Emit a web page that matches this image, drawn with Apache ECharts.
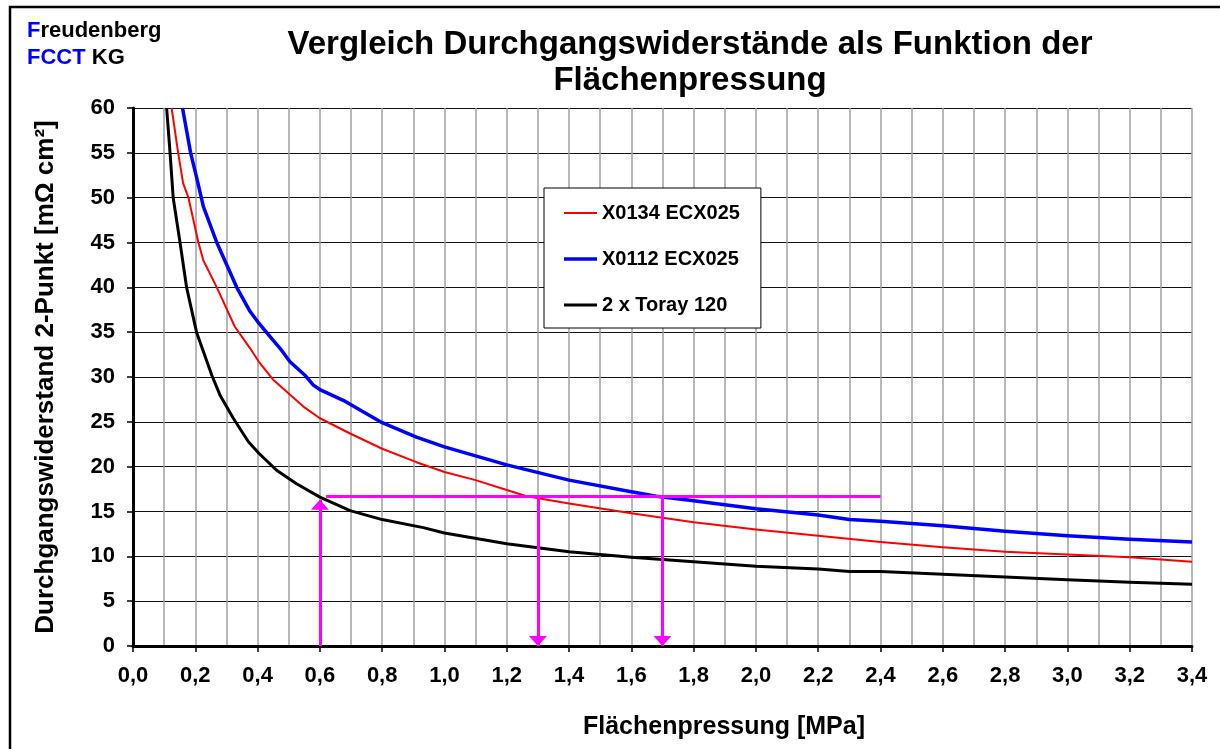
<!DOCTYPE html>
<html><head><meta charset="utf-8">
<script src="https://cdn.jsdelivr.net/npm/echarts@6/dist/echarts.min.js"></script>
<style>html,body{margin:0;padding:0;background:#fff}#c{width:1220px;height:749px}</style>
</head><body><div id="c"></div>
<script>
// ---- data ----
const seriesNames = ['X0134 ECX025', 'X0112 ECX025', '2 x Toray 120'];
const seriesColors = ['#FF0000', '#0000FF', '#000000'];

const redP = [0.124,0.145,0.161,0.178,0.21,0.226,0.269,0.327,0.376,0.404,0.45,0.547,0.6,0.697,0.8,0.91,1.0,1.1,1.2,1.264,1.4,1.6,1.8,2.0,2.2,2.4,2.6,2.8,3.0,3.2,3.4];
const redR = [60,55,51.6,50,45,43.0,40,35.6,33.2,31.7,29.7,26.7,25.4,23.7,22.0,20.5,19.4,18.5,17.4,16.7,15.9,14.8,13.8,13.0,12.3,11.6,11.0,10.5,10.2,9.9,9.4];

const blueP = [0.159,0.185,0.204,0.226,0.269,0.333,0.376,0.404,0.44,0.472,0.504,0.552,0.579,0.6,0.675,0.8,0.91,1.0,1.2,1.4,1.6,1.68,1.8,2.0,2.2,2.3,2.4,2.6,2.8,3.0,3.2,3.4];
const blueR = [60,55,52.3,49.0,45,40,37.3,36.0,34.5,33.2,31.7,30.2,29.1,28.6,27.4,24.9,23.3,22.2,20.2,18.5,17.2,16.7,16.2,15.3,14.6,14.1,13.9,13.4,12.8,12.3,11.9,11.6];

const blackP = [0.108,0.119,0.129,0.151,0.172,0.204,0.253,0.279,0.322,0.37,0.404,0.461,0.525,0.6,0.697,0.8,0.932,1.0,1.2,1.4,1.6,1.8,2.0,2.2,2.3,2.4,2.6,2.8,3.0,3.2,3.4];
const blackR = [60,55,50,45,40,35,30.2,28.0,25.4,22.8,21.5,19.6,18.1,16.6,15.1,14.1,13.2,12.6,11.4,10.5,9.9,9.4,8.9,8.6,8.3,8.3,8.0,7.7,7.4,7.1,6.9];

// reference construction (magenta)
const refLevel = 16.7;
const refLineFrom = 0.62, refLineTo = 2.4;
const arrowUpP = [0.6];
const arrowDownP = [1.3, 1.7];

// axes
const xMin = 0, xMax = 3.4, xStep = 0.2;
const yMin = 0, yMax = 60, yStep = 5;

const titleText = 'Vergleich Durchgangswiderstände als Funktion der\nFlächenpressung';
const xName = 'Flächenpressung [MPa]';
const yName = 'Durchgangswiderstand 2-Punkt [mΩ cm²]';

// ---- chart ----
const FONT = '"Liberation Sans", Arial, Helvetica, sans-serif';
const zip = (a, b) => a.map((v, i) => [v, b[i]]);
const curves = [zip(redP, redR), zip(blueP, blueR), zip(blackP, blackR)];
const widths = [2, 3.5, 3];
const legendIcons = widths.map(w => 'path://M0,0 L33,0 L33,' + w + ' L0,' + w + ' Z');

const magenta = '#FF00FF';
const arrowHead = { symbol: 'triangle', symbolSize: [18, 10], symbolOffset: [0, 5] };
const markData = [
  [{ coord: [refLineFrom, refLevel], symbol: 'none' }, { coord: [refLineTo, refLevel], symbol: 'none' }]
];
arrowUpP.forEach(p => markData.push([{ coord: [p, yMin], symbol: 'none' }, Object.assign({ coord: [p, refLevel - 0.4] }, arrowHead)]));
arrowDownP.forEach(p => markData.push([{ coord: [p, refLevel], symbol: 'none' }, Object.assign({ coord: [p, yMin] }, arrowHead)]));

const series = seriesNames.map((n, i) => ({
  name: n, type: 'line', data: curves[i], symbol: 'none', showSymbol: false,
  smooth: false,
  lineStyle: { color: seriesColors[i], width: widths[i], join: 'round' }, itemStyle: { color: seriesColors[i] },
  emphasis: { disabled: true }, z: 3
}));
series.push({
  name: 'annot', type: 'line', data: [], z: 5,
  markLine: {
    silent: true, animation: false, label: { show: false },
    lineStyle: { color: magenta, width: 3, type: 'solid' },
    emphasis: { disabled: true },
    data: markData
  }
});

const chart = echarts.init(document.getElementById('c'), null, { renderer: 'canvas' });
chart.setOption({
  animation: false,
  backgroundColor: '#fff',
  grid: { left: 133, right: 28, top: 108, bottom: 103, containLabel: false },
  legend: {
    data: seriesNames.map((n, i) => ({ name: n, icon: legendIcons[i] })),
    orient: 'vertical', left: 544, top: 188,
    itemWidth: 33, itemHeight: 14, itemGap: 26, padding: [15, 21, 13, 20],
    backgroundColor: '#fff', borderColor: '#000', borderWidth: 1, borderRadius: 0,
    selectedMode: false,
    textStyle: { fontFamily: FONT, fontWeight: 'bold', fontSize: 20, color: '#000' }
  },
  xAxis: {
    type: 'value', min: xMin, max: xMax, interval: xStep,
    axisLine: { show: true, onZero: false, lineStyle: { color: '#000', width: 3 } },
    axisTick: { show: true, length: 6, lineStyle: { color: '#000', width: 1.5 } },
    axisLabel: { margin: 19, fontFamily: FONT, fontWeight: 'bold', fontSize: 22, color: '#000',
      formatter: v => v.toFixed(1).replace('.', ',') },
    splitLine: { show: true, lineStyle: { color: '#a0a0a0', width: 1.5 } },
    minorTick: { show: false, splitNumber: 2 },
    minorSplitLine: { show: true, lineStyle: { color: '#a0a0a0', width: 1.5 } }
  },
  yAxis: {
    type: 'value', min: yMin, max: yMax, interval: yStep,
    name: yName, nameLocation: 'middle', nameRotate: 90, nameGap: 74,
    nameTextStyle: { fontFamily: FONT, fontWeight: 'bold', fontSize: 26, color: '#000' },
    axisLine: { show: true, lineStyle: { color: '#000', width: 3 } },
    axisTick: { show: true, length: 6, lineStyle: { color: '#000', width: 1.5 } },
    axisLabel: { margin: 18, fontFamily: FONT, fontWeight: 'bold', fontSize: 22, color: '#000' },
    splitLine: { show: true, lineStyle: { color: '#111', width: 1.2 } }
  },
  graphic: [
    { type: 'rect', silent: true, z: 100, shape: { x: 10, y: 7, width: 1400, height: 900 },
      style: { fill: 'none', stroke: '#000', lineWidth: 2.5 } },
    { type: 'text', silent: true, x: 27, y: 17, style: {
      text: '{b|F}{k|reudenberg}\n{b|FCCT} {k|KG}', font: 'bold 22px ' + FONT,
      rich: { b: { fill: '#0000FF', font: 'bold 22px ' + FONT, lineHeight: 27 },
              k: { fill: '#000', font: 'bold 22px ' + FONT, lineHeight: 27 } } } },
    { type: 'text', silent: true, x: 690, y: 63, style: {
      text: titleText, font: 'bold 33px ' + FONT, fill: '#000', align: 'center', verticalAlign: 'middle', lineHeight: 36 } },
    { type: 'text', silent: true, x: 724, y: 727, style: {
      text: xName, font: 'bold 25px ' + FONT, fill: '#000', align: 'center', verticalAlign: 'middle' } }
  ],
  series: series
});
</script></body></html>
